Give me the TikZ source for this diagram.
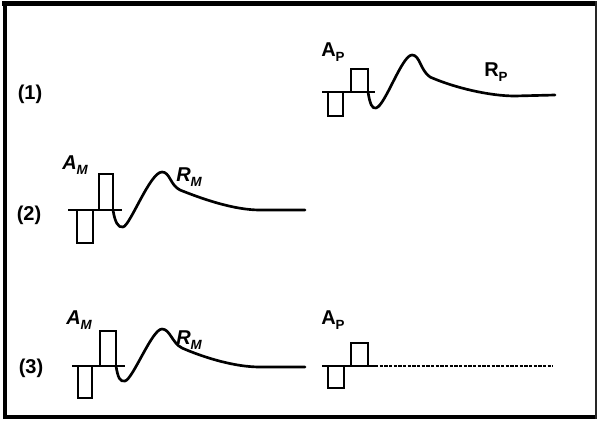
\documentclass[tikz,border=0pt]{standalone}
\usepackage{fontspec}
\setmainfont{Liberation Sans}
\begin{document}
\begin{tikzpicture}[x=0.75pt,y=-0.75pt,
  lbl/.style={font=\fontsize{15}{15}\selectfont\bfseries, inner sep=0pt},
  wave/.style={line width=2pt, line join=round, line cap=round},
  boxline/.style={line width=1.4pt},
  dotline/.style={line width=2pt, dash pattern=on 2.4pt off 1.1pt}]
\useasboundingbox (0,0) rectangle (598,421);
% frame
\fill (2,1) rectangle (597,6);
\fill (3,1) rectangle (7,419);
\fill (3,415) rectangle (597,419);
\fill[black!85] (595,1) rectangle (597,419);
% row labels
\node[lbl] (l1) at (30,94) {(1)};
\node[lbl] (l2) at (29,215) {(2)};
\node[lbl] (l3) at (31,368) {(3)};
% panel 1
\draw[boxline] (322,92) -- (375,92);
\draw[boxline] (328,92) rectangle (343,116);
\draw[boxline] (351,69) rectangle (368,92);
\draw[wave] (368,92) .. controls (370,104) and (372,109) .. (376,108)
  .. controls (385,106) and (402,55) .. (412,55)
  .. controls (420,55) and (420,70) .. (430,77)
  .. controls (455,88) and (490,96) .. (515,96) -- (555,95);
\node[lbl, anchor=base west] (ap1) at (321,56) {A\raisebox{-3.8pt}{\fontsize{10}{10}\selectfont P}};
\node[lbl, anchor=base west] (rp1) at (484,76) {R\raisebox{-3.8pt}{\fontsize{10}{10}\selectfont P}};
% panel 2
\draw[boxline] (68,210) -- (122,210);
\draw[boxline] (77,210) rectangle (93,243);
\draw[boxline] (99,174) rectangle (113,210);
\draw[wave] (113,210) .. controls (115,222) and (118,228) .. (123,227)
  .. controls (130,226) and (150,172) .. (162,172)
  .. controls (170,172) and (170,185) .. (180,190)
  .. controls (205,200) and (235,210) .. (260,210) -- (305,210);
\node[lbl, anchor=base west] (am2) at (62,169) {\itshape A\raisebox{-3.8pt}{\fontsize{10}{10}\selectfont M}};
\node[lbl, anchor=base west] (rm2) at (176,181) {\itshape R\raisebox{-3.8pt}{\fontsize{10}{10}\selectfont M}};
% panel 3 left
\draw[boxline] (72,366) -- (125,366);
\draw[boxline] (78,366) rectangle (92,398);
\draw[boxline] (100,331) rectangle (116,366);
\draw[wave] (116,366) .. controls (118,378) and (120,382) .. (125,381)
  .. controls (133,379) and (152,329) .. (162,329)
  .. controls (170,329) and (172,343) .. (182,348)
  .. controls (205,358) and (235,367) .. (260,367) -- (305,367);
\node[lbl, anchor=base west] (am3) at (66,324) {\itshape A\raisebox{-3.8pt}{\fontsize{10}{10}\selectfont M}};
\node[lbl, anchor=base west] (rm3) at (176,344) {\itshape R\raisebox{-3.8pt}{\fontsize{10}{10}\selectfont M}};
% panel 3 right
\draw[boxline] (322,366) -- (375,366);
\draw[boxline] (328,366) rectangle (344,388);
\draw[boxline] (351,343) rectangle (368,366);
\draw[dotline] (375,366) -- (553,366);
\node[lbl, anchor=base west] (ap3) at (321,324) {A\raisebox{-3.8pt}{\fontsize{10}{10}\selectfont P}};
\end{tikzpicture}
\end{document}
